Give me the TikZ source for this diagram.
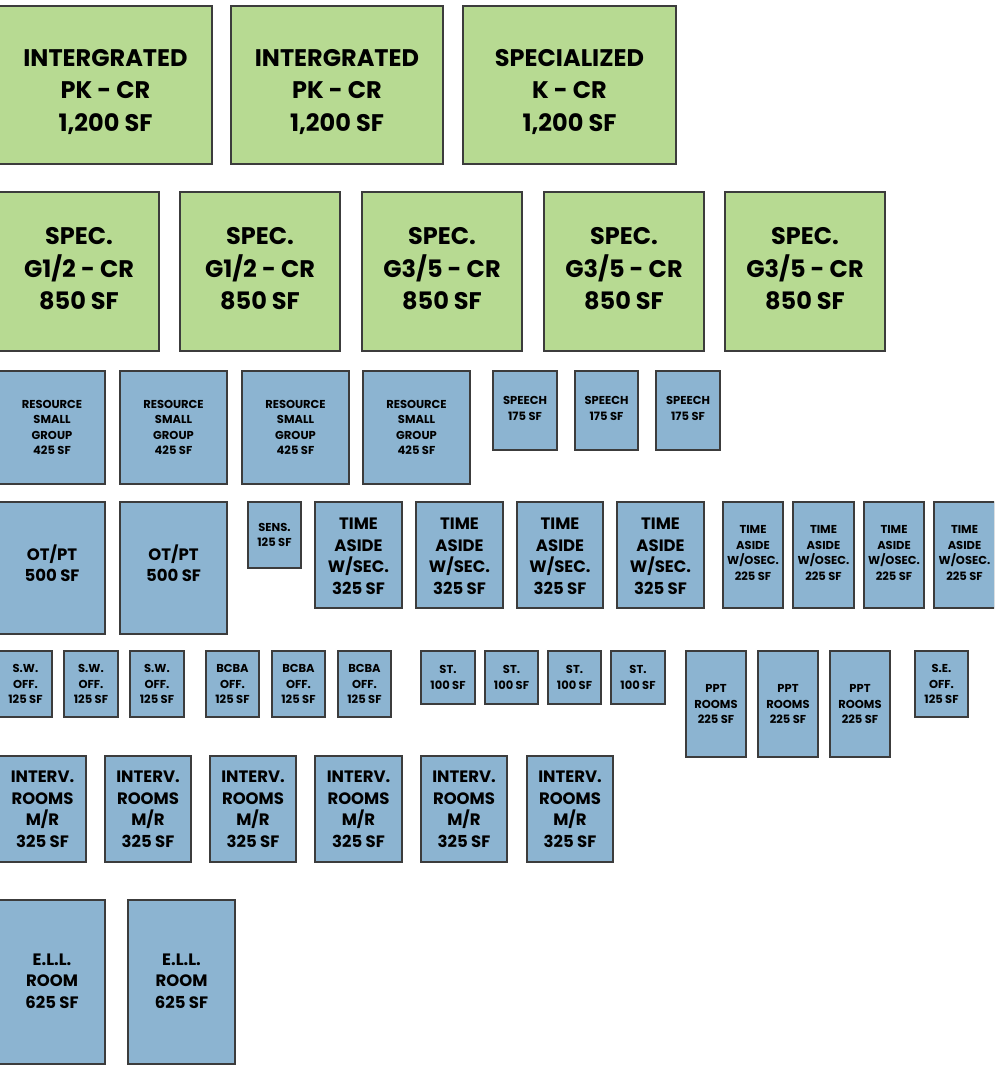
\documentclass[tikz,border=0pt]{standalone}
\usepackage{fontspec}
\setmainfont{Poppins}
\definecolor{gfill}{RGB}{183,218,146}
\definecolor{bfill}{RGB}{140,180,209}
\definecolor{edge}{RGB}{60,60,60}
\tikzset{
  room/.style={draw=edge, line width=1.2pt, inner sep=0pt},
  gbox/.style={room, fill=gfill},
  bbox/.style={room, fill=bfill},
  rtxt/.style={inner sep=0pt, align=center, text=black, text depth=0pt},
  gtxt/.style={rtxt, font={\fontsize{24}{32.5}\selectfont\bfseries}},
  mtxt/.style={rtxt, font={\fontsize{16.5}{21.5}\selectfont\bfseries}},
  stxt/.style={rtxt, font={\fontsize{11.5}{15.5}\selectfont\bfseries}},
}
% [#1 text shift] #2 name, #3 box style, #4 text style, #5 x1, #6 y1, #7 x2, #8 y2, #9 text
\newcommand\rbox[9][0]{%
  \node[#3, minimum width={(#7-#5)*1pt}, minimum height={(#8-#6)*1pt},
        label={[#4, yshift=#1pt]center:{#9}}] (#2) at ({(#5+#7)/2},{(#6+#8)/2}) {};}
\begin{document}
\begin{tikzpicture}[x=1pt,y=-1pt]
\useasboundingbox (0,0) rectangle (994,1065);
\clip (0,0) rectangle (994,1065);
% row 1
\rbox[-5]{g1}{gbox}{gtxt}{-1}{6}{212}{164}{INTERGRATED\\PK - CR\\1,200 SF}
\rbox[-5]{g2}{gbox}{gtxt}{231}{6}{443}{164}{INTERGRATED\\PK - CR\\1,200 SF}
\rbox[-5]{g3}{gbox}{gtxt}{463}{6}{676}{164}{SPECIALIZED\\K - CR\\1,200 SF}
% row 2
\rbox[3]{g4}{gbox}{gtxt}{-1}{192}{159}{351}{SPEC.\\G1/2 - CR\\850 SF}
\rbox[3]{g5}{gbox}{gtxt}{180}{192}{340}{351}{SPEC.\\G1/2 - CR\\850 SF}
\rbox[3]{g6}{gbox}{gtxt}{362}{192}{522}{351}{SPEC.\\G3/5 - CR\\850 SF}
\rbox[3]{g7}{gbox}{gtxt}{544}{192}{704}{351}{SPEC.\\G3/5 - CR\\850 SF}
\rbox[3]{g8}{gbox}{gtxt}{725}{192}{885}{351}{SPEC.\\G3/5 - CR\\850 SF}
% row 3
\rbox{r1}{bbox}{stxt}{-1}{371}{105}{484}{RESOURCE\\SMALL\\GROUP\\425 SF}
\rbox{r2}{bbox}{stxt}{120}{371}{227}{484}{RESOURCE\\SMALL\\GROUP\\425 SF}
\rbox{r3}{bbox}{stxt}{242}{371}{349}{484}{RESOURCE\\SMALL\\GROUP\\425 SF}
\rbox{r4}{bbox}{stxt}{363}{371}{470}{484}{RESOURCE\\SMALL\\GROUP\\425 SF}
\rbox[2]{sp1}{bbox}{stxt}{493}{371}{557}{450}{SPEECH\\175 SF}
\rbox[2]{sp2}{bbox}{stxt}{575}{371}{638}{450}{SPEECH\\175 SF}
\rbox[2]{sp3}{bbox}{stxt}{656}{371}{720}{450}{SPEECH\\175 SF}
% row 4
\rbox[5]{ot1}{bbox}{mtxt}{-1}{502}{105}{634}{OT/PT\\500 SF}
\rbox[5]{ot2}{bbox}{mtxt}{120}{502}{227}{634}{OT/PT\\500 SF}
\rbox{sens}{bbox}{stxt}{248}{502}{301}{568}{SENS.\\125 SF}
\rbox[-1]{ta1}{bbox}{mtxt}{315}{502}{402}{608}{TIME\\ASIDE\\W/SEC.\\325 SF}
\rbox[-1]{ta2}{bbox}{mtxt}{416}{502}{503}{608}{TIME\\ASIDE\\W/SEC.\\325 SF}
\rbox[-1]{ta3}{bbox}{mtxt}{517}{502}{603}{608}{TIME\\ASIDE\\W/SEC.\\325 SF}
\rbox[-1]{ta4}{bbox}{mtxt}{617}{502}{704}{608}{TIME\\ASIDE\\W/SEC.\\325 SF}
\rbox[2]{tao1}{bbox}{stxt}{723}{502}{783}{608}{TIME\\ASIDE\\W/OSEC.\\225 SF}
\rbox[2]{tao2}{bbox}{stxt}{793}{502}{854}{608}{TIME\\ASIDE\\W/OSEC.\\225 SF}
\rbox[2]{tao3}{bbox}{stxt}{864}{502}{924}{608}{TIME\\ASIDE\\W/OSEC.\\225 SF}
\rbox[2]{tao4}{bbox}{stxt}{934}{502}{995}{608}{TIME\\ASIDE\\W/OSEC.\\225 SF}
% row 5
\rbox{sw1}{bbox}{stxt}{-1}{651}{52}{717}{S.W.\\OFF.\\125 SF}
\rbox{sw2}{bbox}{stxt}{64}{651}{118}{717}{S.W.\\OFF.\\125 SF}
\rbox{sw3}{bbox}{stxt}{130}{651}{184}{717}{S.W.\\OFF.\\125 SF}
\rbox{bc1}{bbox}{stxt}{206}{651}{259}{717}{BCBA\\OFF.\\125 SF}
\rbox{bc2}{bbox}{stxt}{272}{651}{325}{717}{BCBA\\OFF.\\125 SF}
\rbox{bc3}{bbox}{stxt}{338}{651}{391}{717}{BCBA\\OFF.\\125 SF}
\rbox{st1}{bbox}{stxt}{421}{651}{475}{704}{ST.\\100 SF}
\rbox{st2}{bbox}{stxt}{485}{651}{538}{704}{ST.\\100 SF}
\rbox{st3}{bbox}{stxt}{548}{651}{601}{704}{ST.\\100 SF}
\rbox{st4}{bbox}{stxt}{611}{651}{665}{704}{ST.\\100 SF}
\rbox{ppt1}{bbox}{stxt}{686}{651}{746}{757}{PPT\\ROOMS\\225 SF}
\rbox{ppt2}{bbox}{stxt}{758}{651}{818}{757}{PPT\\ROOMS\\225 SF}
\rbox{ppt3}{bbox}{stxt}{830}{651}{890}{757}{PPT\\ROOMS\\225 SF}
\rbox{se}{bbox}{stxt}{915}{651}{968}{717}{S.E.\\OFF.\\125 SF}
% row 6
\rbox{iv1}{bbox}{mtxt}{-1}{756}{86}{862}{INTERV.\\ROOMS\\M/R\\325 SF}
\rbox{iv2}{bbox}{mtxt}{105}{756}{191}{862}{INTERV.\\ROOMS\\M/R\\325 SF}
\rbox{iv3}{bbox}{mtxt}{210}{756}{296}{862}{INTERV.\\ROOMS\\M/R\\325 SF}
\rbox{iv4}{bbox}{mtxt}{315}{756}{402}{862}{INTERV.\\ROOMS\\M/R\\325 SF}
\rbox{iv5}{bbox}{mtxt}{421}{756}{507}{862}{INTERV.\\ROOMS\\M/R\\325 SF}
\rbox{iv6}{bbox}{mtxt}{527}{756}{613}{862}{INTERV.\\ROOMS\\M/R\\325 SF}
% row 7
\rbox[1]{ell1}{bbox}{mtxt}{-1}{900}{105}{1064}{E.L.L.\\ROOM\\625 SF}
\rbox[1]{ell2}{bbox}{mtxt}{128}{900}{235}{1064}{E.L.L.\\ROOM\\625 SF}
\end{tikzpicture}
\end{document}
